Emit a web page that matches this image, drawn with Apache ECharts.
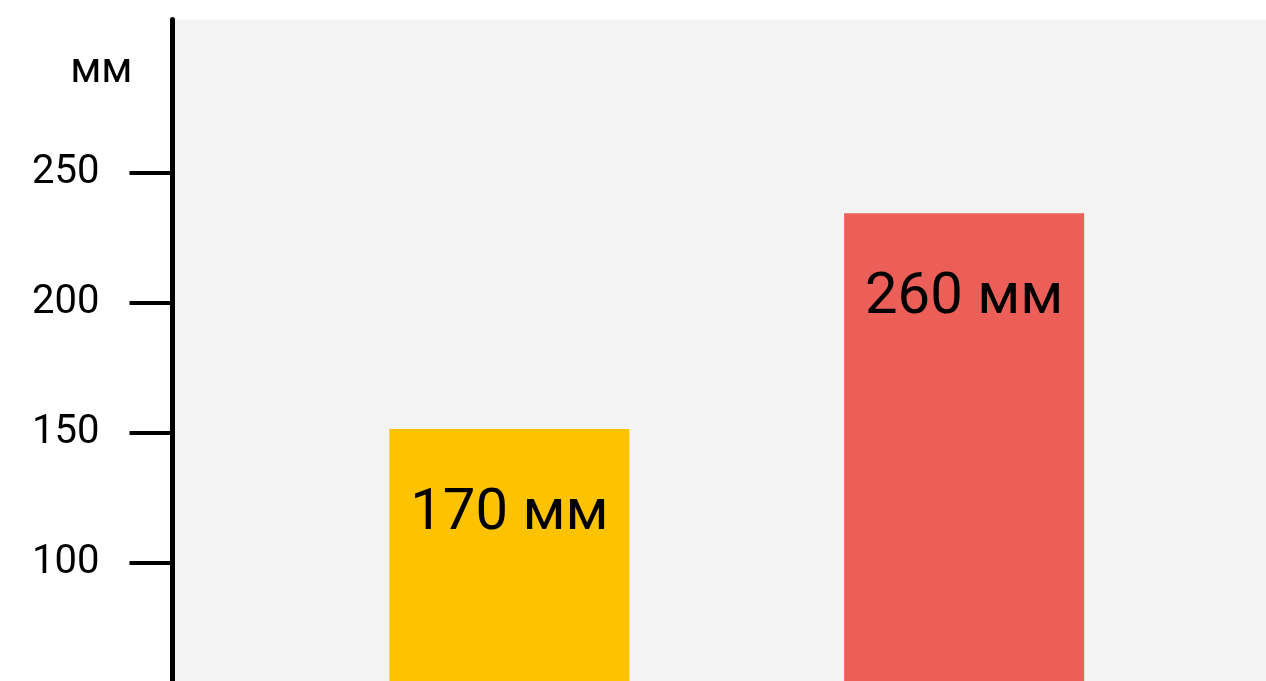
<!DOCTYPE html>
<html>
<head>
<meta charset="utf-8">
<script src="https://cdn.jsdelivr.net/npm/echarts@6/dist/echarts.min.js"></script>
<style>html,body{margin:0;padding:0;background:#fff;}#c{width:1266px;height:681px;}</style>
</head>
<body>
<div id="c"></div>
<script>
const categories = ['A', 'B'];
const values = [151.5, 234.5];
const barLabels = ['170 мм', '260 мм'];
const barColors = ['#FDC300', '#EC5F58'];
const yTicks = [100, 150, 200, 250];
const yUnit = 'мм';

const FONT = 'Roboto, "Noto Sans", sans-serif';
const chart = echarts.init(document.getElementById('c'), null, {renderer: 'canvas'});
chart.setOption({
  animation: false,
  backgroundColor: '#ffffff',
  graphic: [{
    type: 'rect', z: -10, silent: true,
    shape: {x: 175, y: 19.6, width: 1091, height: 662},
    style: {fill: '#F3F3F3'}
  }],
  grid: {left: 282, right: 74.5, top: 19.6, bottom: 0, containLabel: false},
  xAxis: {
    type: 'category', data: categories, show: false
  },
  yAxis: {
    type: 'value', min: 54.6, max: 309, offset: 109.5,
    name: yUnit, nameLocation: 'end', nameGap: -52,
    nameTextStyle: {fontFamily: FONT, fontSize: 42, color: '#000', align: 'right', verticalAlign: 'middle', padding: [0, 40, 0, 0]},
    axisLine: {show: true, lineStyle: {color: '#000', width: 5}},
    axisTick: {show: true, length: 43, lineStyle: {color: '#000', width: 4}, customValues: yTicks},
    axisLabel: {margin: 73, fontFamily: FONT, fontSize: 40, color: '#000', customValues: yTicks},
    splitLine: {show: false}
  },
  series: [{
    type: 'bar', barWidth: 240,
    data: values.map((v, i) => ({value: v, itemStyle: {color: barColors[i]}})),
    label: {
      show: true, position: 'insideTop', distance: 56,
      fontFamily: FONT, fontSize: 58, color: '#000',
      formatter: p => barLabels[p.dataIndex]
    }
  }]
});
</script>
</body>
</html>
